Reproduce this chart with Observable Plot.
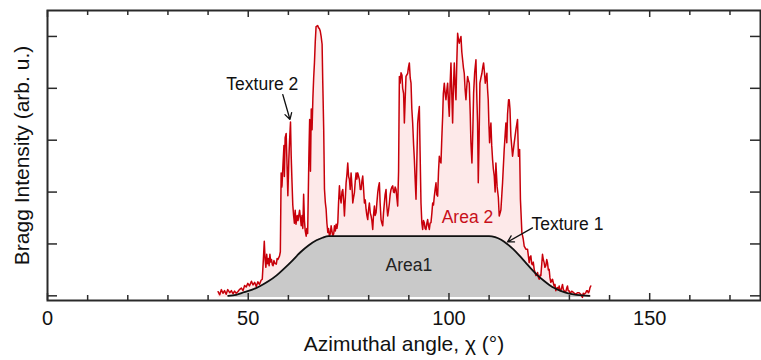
<!DOCTYPE html>
<html><head><meta charset="utf-8">
<script src="https://cdn.jsdelivr.net/npm/d3@7"></script>
<script src="https://cdn.jsdelivr.net/npm/@observablehq/plot@0.6"></script>
<style>html,body{margin:0;padding:0;background:#fff}#chart{width:761px;height:360px}</style>
</head><body><div id="chart"></div>
<script>
// Measured Bragg intensity profile: [azimuthal angle χ (°), intensity (arb. u.)]
const braggProfile = [
[42.5,0.08],[42.9,0.02],[43.3,0.12],[43.7,0.05],[44.1,0.10],[44.5,0.03],[44.9,0.12],[45.4,0.06],[45.8,0.10],[46.2,0.04],
[46.6,0.09],[47.0,0.05],[47.4,0.08],[47.8,0.12],[48.3,0.15],[48.7,0.10],[49.1,0.20],[49.5,0.17],[49.9,0.24],[50.3,0.19],
[50.8,0.28],[51.2,0.21],[51.6,0.26],[52.0,0.18],[52.4,0.27],[52.8,0.22],[53.2,0.30],[53.5,0.32],[53.75,0.67],[54.0,1.05],
[54.2,0.70],[54.4,0.55],[54.6,0.80],[54.8,0.62],[55.0,0.72],[55.2,0.58],[55.4,0.80],[55.6,0.65],[55.8,0.70],[56.0,0.60],
[56.2,0.58],[56.4,0.68],[56.7,0.62],[57.0,0.61],[57.2,0.72],[57.4,0.70],[57.8,0.77],[58.0,0.85],[58.2,2.37],[58.4,2.10],
[58.6,2.44],[58.9,2.90],[59.0,2.30],[59.2,3.05],[59.45,3.13],[59.6,2.70],[59.87,1.93],[60.1,2.60],[60.3,3.00],[60.53,3.35],
[60.7,2.70],[60.9,2.20],[61.1,1.75],[61.3,1.55],[61.5,1.40],[61.7,1.65],[61.9,1.38],[62.2,1.55],[62.4,1.45],[62.8,1.65],
[63.0,1.50],[63.2,1.35],[63.4,1.55],[63.6,1.30],[63.8,1.96],[64.0,1.45],[64.2,1.25],
[64.43,1.15],[64.6,1.30],[64.8,1.20],[65.1,2.65],[65.3,3.40],[65.5,2.40],[65.7,3.60],[65.9,3.20],[66.1,3.80],[66.3,4.20],[66.5,4.50],[66.7,4.90],
[66.9,5.19],[67.1,5.20],[67.3,5.21],[67.5,5.17],[67.74,5.15],[67.95,5.10],[68.16,5.00],[68.4,4.85],[68.57,4.10],[68.8,3.20],
[68.99,2.06],[69.2,1.80],[69.4,1.67],[69.6,1.40],[69.82,1.22],[70.0,1.30],[70.23,1.15],[70.45,1.20],[70.65,1.35],[70.85,1.25],
[71.06,1.15],[71.3,1.20],[71.48,1.35],[71.7,1.25],[71.89,1.38],[72.1,1.30],[72.31,1.41],[72.5,1.80],[72.72,2.12],[72.9,1.90],
[73.13,1.79],[73.35,2.00],[73.55,2.05],[73.75,1.85],[73.96,1.54],[74.2,1.90],[74.38,2.18],[74.6,2.35],[74.79,2.56],[75.0,2.30],
[75.21,2.24],[75.4,2.05],[75.62,2.37],[75.85,2.10],[76.04,1.79],[76.25,1.90],[76.45,1.99],[76.65,2.20],[76.87,2.37],[77.05,2.25],
[77.28,2.37],[77.5,2.30],[77.69,2.24],[77.9,2.05],[78.11,2.05],[78.3,2.20],[78.52,2.31],[78.7,2.10],[78.94,1.79],[79.15,1.85],
[79.35,1.67],[79.55,1.55],[79.77,1.47],[79.95,1.65],[80.18,1.79],[80.4,1.60],[80.6,1.54],[80.8,1.45],[81.01,1.28],[81.2,1.55],
[81.43,1.73],[81.6,1.55],[81.84,1.60],[82.05,1.80],[82.26,1.99],[82.45,2.10],[82.67,2.18],[82.85,1.80],[83.08,1.47],[83.3,1.40],
[83.5,1.35],[83.7,1.60],[83.91,1.79],[84.1,1.95],[84.33,2.05],[84.5,1.75],[84.74,1.54],[84.95,1.65],[85.16,1.79],[85.35,1.95],
[85.57,2.05],[85.8,2.10],[85.99,2.12],[86.2,2.00],[86.4,1.99],[86.6,2.10],[86.82,2.05],[87.0,1.90],[87.23,1.73],[87.45,2.40],
[87.65,4.23],[87.85,4.10],[88.06,4.30],[88.3,4.25],[88.47,4.00],[88.7,3.90],[88.89,3.33],[89.1,3.80],[89.3,4.23],
[89.72,4.29],[89.9,4.40],[90.13,4.49],[90.35,4.20],[90.55,4.10],[90.75,3.60],[90.96,3.33],[91.2,2.90],[91.38,2.63],[91.6,2.20],
[91.79,1.86],[92.0,2.60],[92.21,3.33],[92.4,3.50],[92.62,3.65],[92.8,2.80],[93.03,1.79],[93.25,1.40],[93.45,1.28],[93.65,1.45],
[93.86,1.41],[94.05,1.30],[94.28,1.28],[94.5,1.40],[94.69,1.47],[94.9,1.35],[95.11,1.28],[95.3,1.40],[95.52,1.41],[95.75,1.60],
[95.94,1.79],[96.15,1.75],[96.35,1.92],[96.55,2.05],[96.77,2.18],[96.95,1.95],[97.18,1.92],[97.4,2.40],[97.6,2.69],[97.8,2.60],
[98.01,2.56],[98.2,3.00],[98.43,3.46],[98.6,3.90],[98.84,4.10],[99.05,3.90],[99.25,3.78],[99.45,3.95],[99.67,4.10],[99.9,3.70],
[100.08,3.46],[100.3,4.10],[100.5,4.49],[100.7,3.90],[100.91,3.33],[101.1,4.00],[101.33,4.49],[101.5,4.10],[101.74,3.78],[101.95,4.50],
[102.16,5.06],[102.35,4.95],[102.57,4.87],[102.8,4.95],[102.99,5.00],[103.2,4.70],[103.4,4.55],[103.6,4.40],[103.81,4.29],[104.0,4.00],
[104.23,3.78],[104.45,4.05],[104.64,4.23],[104.85,4.15],[105.06,4.10],[105.3,3.50],[105.47,2.95],[105.72,2.56],[105.95,3.20],[106.14,3.91],
[106.4,4.30],[106.72,4.55],[106.95,3.80],[107.13,3.33],[107.3,2.18],[107.5,3.00],[107.71,4.10],[107.95,4.20],[108.21,4.29],[108.4,4.40],
[108.62,4.49],[108.85,4.30],[109.04,4.10],[109.25,4.20],[109.45,4.29],[109.6,4.00],[109.78,3.78],[109.95,3.30],[110.12,2.95],[110.3,3.20],
[110.45,3.33],[110.65,2.90],[110.86,2.63],[111.05,2.45],[111.28,2.31],[111.5,2.00],
[111.69,2.56],[112.0,2.10],[112.3,1.90],[112.52,1.54],[112.75,1.60],[112.94,1.66],[113.35,2.18],[113.76,2.82],[114.18,3.33],[114.4,2.95],
[114.59,3.50],[114.85,3.78],[115.01,3.78],[115.2,3.60],[115.42,3.08],[115.84,2.69],[116.25,2.95],[116.67,3.20],[117.08,3.40],[117.3,2.69],
[117.6,2.82],[117.8,1.86],[118.16,1.22],[118.49,1.10],[118.74,0.96],[119.15,0.90],[119.57,0.90],[119.98,0.64],[120.2,0.75],[120.4,0.77],
[120.6,0.62],[120.81,0.60],[121.0,0.65],[121.23,0.51],[121.45,0.45],[121.64,0.39],[121.85,0.40],[122.06,0.45],[122.3,0.35],[122.47,0.32],
[122.7,0.40],[122.89,0.39],[123.1,0.60],[123.3,0.80],[123.5,0.70],[123.71,0.64],[123.9,0.55],[124.13,0.58],[124.35,0.70],[124.54,0.64],
[124.75,0.50],[124.96,0.51],[125.15,0.35],[125.37,0.26],[125.6,0.30],[125.79,0.32],[126.0,0.25],[126.2,0.19],[126.4,0.22],[126.62,0.10],
[126.8,0.14],[127.03,0.16],[127.25,0.12],[127.45,0.19],[127.65,0.10],[127.86,0.10],[128.05,0.15],[128.28,0.22],[128.5,0.12],[128.69,0.10],
[128.9,0.07],[129.1,0.08],[129.3,0.14],[129.52,0.19],[129.7,0.10],[129.93,0.10],[130.15,0.05],[130.35,0.06],[130.55,0.09],[130.76,0.08],
[131.2,0.05],[131.59,0.03],[132.0,0.06],[132.42,0.06],[132.84,0.03],[133.05,0.0],[133.25,-0.03],[133.45,0.05],[133.66,0.03],[134.08,0.06],
[134.3,0.10],[134.49,0.10],[134.7,0.06],[134.91,0.08],[135.1,0.15],[135.32,0.19]
];

// Texture 1 envelope (Area1): [χ (°), intensity]
const texture1Profile = [
[45,0.0],[47,0.02],[49,0.07],[51,0.12],[53,0.19],[55,0.28],[57,0.39],[59,0.53],[61,0.68],[63,0.84],
[65,0.97],[67,1.07],[68.5,1.12],[70,1.15],[108.5,1.15],[110,1.15],[111.5,1.13],[113,1.08],[114.5,1.00],[116,0.90],
[117.5,0.78],[119,0.65],[120.5,0.52],[122,0.40],[123.5,0.30],[125,0.21],[126.5,0.14],[128,0.09],[129.5,0.05],[131,0.03],
[132.5,0.015],[134,0.005],[135,0.0]
];

const baseline = -0.03;
const xMajorTicks = [0, 50, 100, 150];
const xMinorTicks = [10, 20, 30, 40, 60, 70, 80, 90, 110, 120, 130, 140, 160, 170];
const yTicks = [0, 1, 2, 3, 4, 5];
const xTitle = "Azimuthal angle, χ (°)";
const yTitle = "Bragg Intensity (arb. u.)";

const labelTexts = ["Texture 2", "Area 2", "Area1", "Texture 1"];
const labelChi   = [53.5, 104.6, 90.0, 129.5];
const labelInt   = [4.07, 1.51, 0.58, 1.38];
const labelColors = ["#111", "#c8101a", "#222", "#111"];

const arrowFromChi = [58.6, 120.8];
const arrowFromInt = [3.88, 1.31];
const arrowToChi   = [60.4, 114.6];
const arrowToInt   = [3.40, 1.04];

const W = 761, H = 360, mL = 47, mR = 1, mT = 10, mB = 60;
const innerW = W - mL - mR, innerH = H - mT - mB;
const xMajorLen = 7, xMinorLen = 5, yTickLen = 10;

const bragg = braggProfile.map(([chi, v]) => ({chi, v}));
const tex = texture1Profile.map(([chi, v]) => ({chi, v}));
const labels = labelTexts.map((t, i) => ({t, chi: labelChi[i], v: labelInt[i], c: labelColors[i]}));
const arrows = arrowFromChi.map((c, i) => ({x1: c, y1: arrowFromInt[i], x2: arrowToChi[i], y2: arrowToInt[i]}));
const frameColor = "#2a2a2a";

const chart = Plot.plot({
  width: W, height: H,
  marginLeft: mL, marginRight: mR, marginTop: mT, marginBottom: mB,
  style: {fontFamily: "'Liberation Sans', Arial, sans-serif", fontSize: "20px", background: "white", color: "#111"},
  x: {domain: [0, 177.6], ticks: xMajorTicks, tickSize: 0, tickPadding: 10, label: null},
  y: {domain: [-0.09, 5.5], axis: null},
  marks: [
    Plot.areaY(bragg, {x: "chi", y1: baseline, y2: "v", fill: "#fde9e9"}),
    Plot.areaY(tex, {x: "chi", y1: baseline, y2: "v", fill: "#c9c9c9", curve: "monotone-x"}),
    Plot.lineY(bragg, {x: "chi", y: "v", stroke: "#c8000a", strokeWidth: 1.5}),
    Plot.lineY(tex, {x: "chi", y: "v", stroke: "#111", strokeWidth: 1.8, curve: "monotone-x"}),
    Plot.ruleX(xMajorTicks, {insetTop: innerH - xMajorLen, stroke: frameColor, strokeWidth: 1.5}),
    Plot.ruleX(xMajorTicks, {insetBottom: innerH - xMajorLen, stroke: frameColor, strokeWidth: 1.5}),
    Plot.ruleX(xMinorTicks, {insetTop: innerH - xMinorLen, stroke: frameColor, strokeWidth: 1.5}),
    Plot.ruleX(xMinorTicks, {insetBottom: innerH - xMinorLen, stroke: frameColor, strokeWidth: 1.5}),
    Plot.ruleY(yTicks, {insetRight: innerW - yTickLen, stroke: frameColor, strokeWidth: 1.5}),
    Plot.ruleY(yTicks, {insetLeft: innerW - yTickLen, stroke: frameColor, strokeWidth: 1.5}),
    Plot.frame({stroke: frameColor, strokeWidth: 2}),
    Plot.arrow(arrows, {x1: "x1", y1: "y1", x2: "x2", y2: "y2", stroke: "#111", strokeWidth: 1.3, headLength: 8}),
    Plot.text(labels, {x: "chi", y: "v", text: "t", fill: "c", fontSize: 17.5}),
    Plot.text([xTitle], {text: d => d, frameAnchor: "bottom", lineAnchor: "middle", textAnchor: "middle", dy: 44, fontSize: 21, fill: "#111"}),
    Plot.text([yTitle], {text: d => d, frameAnchor: "left", textAnchor: "middle", lineAnchor: "middle", rotate: -90, dx: -25, fontSize: 21, fill: "#111"})
  ]
});
document.getElementById("chart").appendChild(chart);
</script>
</body></html>
